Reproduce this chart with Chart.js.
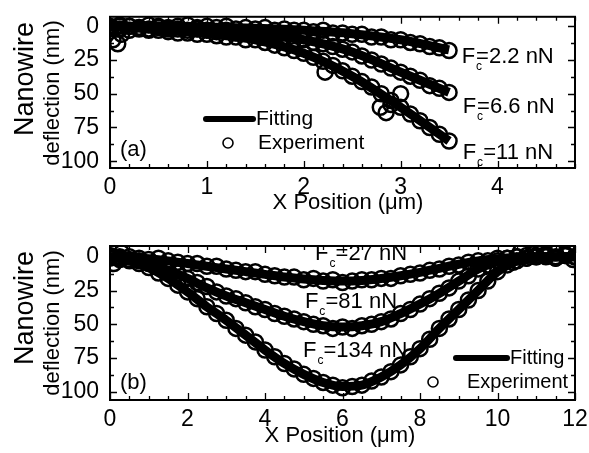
<!DOCTYPE html>
<html>
<head>
<meta charset="utf-8">
<script src="https://cdn.jsdelivr.net/npm/chart.js@4"></script>
<style>
  html, body { margin: 0; padding: 0; background: #fff; }
  #wrap { position: relative; width: 589px; height: 453px; }
  .panel { position: absolute; left: 0; width: 589px; }
  #pa { top: 0; height: 226px; }
  #pb { top: 226px; height: 227px; }
</style>
</head>
<body>
<div id="wrap">
  <div class="panel" id="pa"><canvas id="chartA" width="589" height="226"></canvas></div>
  <div class="panel" id="pb"><canvas id="chartB" width="589" height="227"></canvas></div>
</div>
<script>
// ---- panel (a): cantilevered nanowire, three loads ----
const xExpA = [0, 0.1, 0.2, 0.3, 0.4, 0.5, 0.6, 0.7, 0.8, 0.9, 1.0, 1.1, 1.2, 1.3, 1.4, 1.5, 1.6, 1.7,
  1.8, 1.9, 2.0, 2.1, 2.2, 2.3, 2.4, 2.5, 2.6, 2.7, 2.8, 2.9, 3.0, 3.1, 3.2, 3.3, 3.4, 3.5];
const expA22 = [1, -1, 0, 1, -1, 0, 1, 0, -1, 1, 0, 1, 0, 2, 1, 2, 1, 3,
  2, 3, 3, 4, 3, 5, 5, 6, 6, 8, 8, 10, 10, 12, 13, 15, 16, 18];
const expA66 = [0, 2, 0, 1, 2, 1, 2, 2, 3, 2, 3, 4, 3, 5, 5, 6, 6, 8,
  8, 10, 10, 12, 13, 15, 17, 19, 22, 25, 28, 31, 34, 37, 40, 44, 46, 49];
const expA11 = [2, 0, 3, 2, 3, 3, 4, 5, 5, 6, 6, 7, 8, 8, 10, 10, 12, 14,
  16, 18, 20, 23, 26, 29, 33, 37, 41, 45, 50, 55, 60, 65, 70, 75, 80, 85];
// stray experimental circles off the main bands
const xOddA = [0.03, 0.08, 0.12, 2.22, 2.79, 2.85, 2.9, 3.0];
const yOddA = [10, 13, 6, 34, 60, 64, 58, 50];
const xFitA = [0, 0.5, 1, 1.5, 2, 2.5, 3, 3.5];
const fitA22 = [0, 0, 0.5, 1.5, 3, 5.5, 10, 17.5];
const fitA66 = [0, 1, 2.5, 5.5, 10, 19, 34, 49];
const fitA11 = [0, 2.5, 5.5, 10, 20, 37, 60, 85];
const forceA = ['=2.2 nN', '=6.6 nN', ' =11 nN'];
const xTicksA = [0, 1, 2, 3, 4];

// ---- panel (b): nanowire fixed at both ends ----
const xExpB = [0, 0.25, 0.5, 0.75, 1, 1.25, 1.5, 1.75, 2, 2.25, 2.5, 2.75, 3, 3.25, 3.5, 3.75,
  4, 4.25, 4.5, 4.75, 5, 5.25, 5.5, 5.75, 6, 6.25, 6.5, 6.75, 7, 7.25, 7.5, 7.75,
  8, 8.25, 8.5, 8.75, 9, 9.25, 9.5, 9.75, 10, 10.25, 10.5, 10.75, 11, 11.25, 11.5, 11.75, 12];
const expB27 = [-1, 1, 0, 1, 2, 1, 3, 4, 5, 5, 7, 7, 9, 10, 11, 11,
  13, 14, 15, 15, 17, 16, 18, 17, 19, 18, 17, 17, 16, 16, 14, 13,
  12, 10, 9, 7, 6, 4, 3, 3, 1, 1, 0, -1, 0, -2, 0, -1, 0];
const expB81 = [1, 0, 2, 3, 5, 7, 10, 12, 16, 19, 22, 26, 29, 31, 34, 37,
  39, 42, 44, 46, 48, 50, 51, 53, 52, 53, 51, 50, 48, 46, 42, 39,
  35, 31, 27, 23, 18, 14, 9, 6, 3, 1, 0, 1, -1, 0, 1, -1, 0];
const expB134 = [0, 2, 3, 5, 8, 12, 16, 21, 26, 31, 37, 42, 47, 53, 58, 63,
  69, 74, 79, 83, 87, 90, 93, 95, 97, 96, 95, 92, 89, 85, 80, 74,
  68, 61, 53, 46, 39, 32, 25, 18, 11, 6, 3, 1, 0, -1, 1, -2, 0];
const xOddB = [0.1, 0.3, 10.4, 10.6, 10.9, 11.2, 11.5, 11.8, 11.95];
const yOddB = [5, -3, 4, -4, -2, -5, -3, -5, 2];
const xFitB = [0, 0.5, 1, 1.5, 2, 2.5, 3, 3.5, 4, 4.5, 5, 5.5, 6, 6.5, 7, 7.5, 8, 8.5,
  9, 9.5, 10, 10.5, 11, 11.5, 12];
const fitB27 = [0, 0.5, 1.5, 3, 5, 7, 9, 11, 13, 15, 16.5, 17.5, 18, 17.5, 16, 14, 11.5, 8.5,
  5.5, 3, 1.5, 0.5, 0, 0, 0];
const fitB81 = [0, 2, 5, 10, 16, 23, 29, 34, 39, 44, 48, 51, 52, 51, 48, 42, 35, 27,
  18, 9, 3, 0.5, 0, 0, 0];
const fitB134 = [0, 3, 8, 16, 26, 37, 47, 58, 69, 79, 87, 93, 96, 95, 89, 80, 68, 53,
  39, 25, 11, 3, 0.5, 0, 0];
const forceB = [' =27 nN', ' =81 nN', ' =134 nN'];
const xTicksB = [0, 2, 4, 6, 8, 10, 12];

const yTicks = [0, 25, 50, 75, 100];

const FONT = 'Arial, "Liberation Sans", sans-serif';

const toXY = (xs, ys) => xs.map((x, i) => ({ x: x, y: ys[i] }));

const expSet = (xs, ys) => ({
  data: toXY(xs, ys),
  showLine: false,
  pointStyle: 'circle',
  pointRadius: 7.5,
  pointBorderWidth: 2.5,
  pointBorderColor: '#000',
  pointBackgroundColor: 'rgba(0,0,0,0)'
});

const fitSet = (xs, ys) => ({
  data: toXY(xs, ys),
  showLine: true,
  borderColor: '#000',
  borderWidth: 9,
  pointRadius: 0,
  tension: 0.4,
  cubicInterpolationMode: 'monotone'
});

// frame with inward ticks on all four sides, plus the text bits
const framePlugin = {
  id: 'frame',
  afterDatasetsDraw(chart, args, o) {
    const ctx = chart.ctx;
    const a = chart.chartArea;
    const xs = chart.scales.x, ys = chart.scales.y;
    ctx.save();
    ctx.strokeStyle = '#000';
    ctx.fillStyle = '#000';
    ctx.lineWidth = 2;
    ctx.strokeRect(a.left, a.top, a.right - a.left, a.bottom - a.top);

    ctx.lineWidth = 1.3;
    ctx.beginPath();
    for (let v = xs.min; v <= xs.max + 1e-6; v += o.minorX) {
      const p = Math.round(xs.getPixelForValue(v)) + 0.5;
      const major = Math.abs(v / o.majorX - Math.round(v / o.majorX)) < 1e-6;
      const len = major ? 7 : 4;
      ctx.moveTo(p, a.bottom); ctx.lineTo(p, a.bottom - len);
      ctx.moveTo(p, a.top); ctx.lineTo(p, a.top + len);
    }
    const y0 = Math.ceil(ys.min / o.minorY) * o.minorY;
    for (let v = y0; v <= ys.max + 1e-6; v += o.minorY) {
      const p = Math.round(ys.getPixelForValue(v)) + 0.5;
      const major = Math.abs(v / 25 - Math.round(v / 25)) < 1e-6;
      const len = major ? 7 : 4;
      ctx.moveTo(a.left, p); ctx.lineTo(a.left + len, p);
      ctx.moveTo(a.right, p); ctx.lineTo(a.right - len, p);
    }
    ctx.stroke();

    // force labels
    o.forces.forEach((txt, i) => {
      const pos = o.forcePos[i];
      const px = xs.getPixelForValue(pos[0]);
      const py = ys.getPixelForValue(pos[1]);
      ctx.textAlign = 'left';
      ctx.textBaseline = 'alphabetic';
      ctx.font = '22px ' + FONT;
      ctx.fillText('F', px, py);
      const fw = ctx.measureText('F').width;
      ctx.font = '12px ' + FONT;
      ctx.fillText('c', px + fw + 1, py + 7);
      ctx.font = '22px ' + FONT;
      ctx.fillText(txt, px + fw + 1, py);
    });

    // legend
    const L = o.legend;
    ctx.lineWidth = 6;
    ctx.lineCap = 'round';
    ctx.beginPath();
    ctx.moveTo(L.lineX0, L.lineY); ctx.lineTo(L.lineX1, L.lineY);
    ctx.stroke();
    ctx.lineCap = 'butt';
    ctx.lineWidth = 1.6;
    ctx.beginPath();
    ctx.arc(L.dotX, L.dotY, 5, 0, Math.PI * 2);
    ctx.stroke();
    ctx.font = L.size + 'px ' + FONT;
    ctx.textBaseline = 'middle';
    ctx.fillText('Fitting', L.lineX1 + 3, L.lineY);
    ctx.fillText('Experiment', L.textX, L.dotY);

    // panel letter
    ctx.font = '22px ' + FONT;
    ctx.fillText(o.letter, a.left + 10, o.letterY);

    // axis titles
    ctx.textAlign = 'center';
    ctx.textBaseline = 'middle';
    ctx.fillText('X Position (\u03bcm)', o.xTitle[0], o.xTitle[1]);
    ctx.textBaseline = 'alphabetic';
    ctx.save();
    ctx.translate(33, o.yTitle1);
    ctx.rotate(-Math.PI / 2);
    ctx.font = '27px ' + FONT;
    ctx.fillText('Nanowire', 0, 0);
    ctx.restore();
    ctx.save();
    ctx.translate(59, o.yTitle2);
    ctx.rotate(-Math.PI / 2);
    ctx.font = '22px ' + FONT;
    ctx.fillText('deflection (nm)', 0, 0);
    ctx.restore();
    ctx.restore();
  }
};

const makeChart = (id, c) => new Chart(document.getElementById(id), {
  type: 'scatter',
  data: { datasets: c.datasets },
  plugins: [framePlugin],
  options: {
    responsive: false,
    animation: false,
    layout: { padding: { top: c.padTop, right: 14, left: 0, bottom: 0 } },
    plugins: {
      legend: { display: false },
      tooltip: { enabled: false },
      frame: c.frame
    },
    scales: {
      x: {
        type: 'linear', min: c.xMin, max: c.xMax,
        grid: { display: false }, border: { display: false },
        afterBuildTicks: s => { s.ticks = c.xTicks.map(v => ({ value: v })); },
        afterFit: s => { s.height = c.xAxisH; },
        ticks: { font: { family: FONT, size: 23 }, color: '#000', padding: -2, maxRotation: 0, autoSkip: false }
      },
      y: {
        type: 'linear', reverse: true, min: c.yMin, max: c.yMax,
        grid: { display: false }, border: { display: false },
        afterBuildTicks: s => { s.ticks = yTicks.map(v => ({ value: v })); },
        afterFit: s => { s.width = 110; },
        ticks: { font: { family: FONT, size: 23 }, color: '#000', padding: 3 }
      }
    }
  }
});

makeChart('chartA', {
  padTop: 14, xAxisH: 58, xMin: 0, xMax: 4.8, yMin: -7, yMax: 105, xTicks: xTicksA,
  datasets: [
    expSet(xExpA, expA22), expSet(xExpA, expA66), expSet(xExpA, expA11), expSet(xOddA, yOddA),
    fitSet(xFitA, fitA22), fitSet(xFitA, fitA66), fitSet(xFitA, fitA11)
  ],
  frame: {
    minorX: 0.2, majorX: 1, minorY: 12.5,
    forces: forceA, forcePos: [[3.63, 27], [3.64, 64], [3.64, 98.5]],
    legend: { lineX0: 206, lineX1: 253, lineY: 119, dotX: 228, dotY: 143, textX: 258, size: 21 },
    letter: '(a)', letterY: 150,
    xTitle: [348, 203], yTitle1: 79, yTitle2: 93
  }
});

makeChart('chartB', {
  padTop: 20, xAxisH: 53, xMin: 0, xMax: 12, yMin: -8, yMax: 106, xTicks: xTicksB,
  datasets: [
    expSet(xExpB, expB27), expSet(xExpB, expB81), expSet(xExpB, expB134), expSet(xOddB, yOddB),
    fitSet(xFitB, fitB27), fitSet(xFitB, fitB81), fitSet(xFitB, fitB134)
  ],
  frame: {
    minorX: 0.5, majorX: 2, minorY: 12.5,
    forces: forceB, forcePos: [[5.29, 2.4], [5.03, 37.9], [4.98, 74.2]],
    legend: { lineX0: 456, lineX1: 507, lineY: 132, dotX: 433, dotY: 156, textX: 467, size: 20 },
    letter: '(b)', letterY: 157,
    xTitle: [340, 210], yTitle1: 82, yTitle2: 97
  }
});
</script>
</body>
</html>
